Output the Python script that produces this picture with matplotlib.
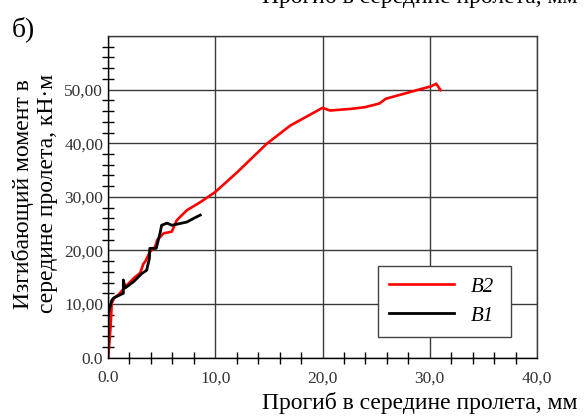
import matplotlib
matplotlib.use('Agg')
import matplotlib.pyplot as plt
from matplotlib.ticker import MultipleLocator, FixedLocator, FixedFormatter

plt.rcParams['font.family'] = ['Liberation Serif', 'DejaVu Serif']

# --- data ---
b2_x = [0.0, 0.1, 0.25, 0.35, 0.6, 1.0, 1.75, 2.5, 3.0, 3.3, 3.46, 3.9, 4.4, 4.6, 5.2, 5.95,
        6.4, 7.35, 8.6, 10.0, 12.0, 14.8, 17.0, 20.0, 20.7, 22.6, 23.9, 25.3, 25.9, 27.0,
        28.8, 30.1, 30.6, 31.0]
b2_y = [0.0, 2.0, 6.0, 10.2, 11.2, 11.8, 13.5, 15.0, 15.8, 17.5, 17.9, 19.7, 20.7, 22.0, 23.2, 23.5,
        25.6, 27.5, 29.0, 30.9, 34.5, 39.9, 43.3, 46.6, 46.1, 46.4, 46.7, 47.4, 48.3, 48.9,
        49.9, 50.6, 51.1, 49.9]

b1_x = [0.0, 0.03, 0.35, 0.5, 1.2, 1.43, 1.43, 1.6, 2.4, 3.15, 3.6, 3.86, 3.9, 4.5, 4.85,
        5.0, 5.5, 5.95, 7.35, 8.0, 8.6]
b1_y = [0.0, 8.3, 10.7, 11.1, 11.8, 12.0, 14.5, 13.0, 14.2, 15.7, 16.3, 18.5, 20.4, 20.4, 23.2,
        24.7, 25.1, 24.7, 25.3, 26.0, 26.6]

x_ticks = [0, 10, 20, 30, 40]
x_labels = ['0.0', '10,0', '20,0', '30,0', '40,0']
y_ticks = [0, 10, 20, 30, 40, 50, 60]
y_labels = ['0.0', '10,00', '20,00', '30,00', '40,00', '50,00', '']

fig = plt.figure(figsize=(5.85, 4.17), dpi=100)
ax = fig.add_axes([0.1846, 0.1422, 0.7334, 0.7715])

ax.plot(b2_x, b2_y, color='#ff0000', linewidth=1.9, label='B2', zorder=3)
ax.plot(b1_x, b1_y, color='#000000', linewidth=2.0, label='B1', zorder=4)

ax.set_xlim(0, 40)
ax.set_ylim(0, 60)

ax.xaxis.set_major_locator(FixedLocator(x_ticks))
ax.xaxis.set_major_formatter(FixedFormatter(x_labels))
ax.yaxis.set_major_locator(FixedLocator(y_ticks))
ax.yaxis.set_major_formatter(FixedFormatter(y_labels))
ax.xaxis.set_minor_locator(MultipleLocator(2))
ax.yaxis.set_minor_locator(MultipleLocator(2))

ax.tick_params(which='both', direction='inout', top=False, right=False, colors='black')
ax.tick_params(which='major', length=0, labelsize=12.5, labelcolor='#333333')
ax.tick_params(which='minor', length=8, width=1)
ax.tick_params(axis='x', which='major', pad=9)
ax.tick_params(axis='y', which='major', pad=3.5)
for lbl in ax.get_yticklabels():
    lbl.set_verticalalignment('center_baseline')

ax.grid(True, which='major', color='#3a3a3a', linewidth=1.0)
ax.set_axisbelow(True)
for s in ax.spines.values():
    s.set_color('#3a3a3a')
    s.set_linewidth(1.0)
ax.spines['left'].set_color('black')
ax.spines['bottom'].set_color('black')

leg = ax.legend(loc='lower left', bbox_to_anchor=(0.629, 0.064, 0.31, 0.233), mode='expand',
                borderaxespad=0, fancybox=False, framealpha=1, edgecolor='#444444',
                prop={'style': 'italic', 'size': 15}, handlelength=3.1,
                labelspacing=0.45, borderpad=0.55)
leg.get_frame().set_linewidth(1.0)

fig.text(0.988, 0.034, 'Прогиб в середине пролета, мм', ha='right', va='center', fontsize=17)
fig.text(0.988, 1.008, 'Прогиб в середине пролета, мм', ha='right', va='center', fontsize=17)
fig.text(0.02, 0.93, 'б)', ha='left', va='center', fontsize=20)
fig.text(0.039, 0.535, 'Изгибающий момент в', rotation=90, ha='center', va='center', fontsize=17)
fig.text(0.081, 0.535, 'середине пролета, кН·м', rotation=90, ha='center', va='center', fontsize=17)

fig.savefig('out.png', dpi=100)
